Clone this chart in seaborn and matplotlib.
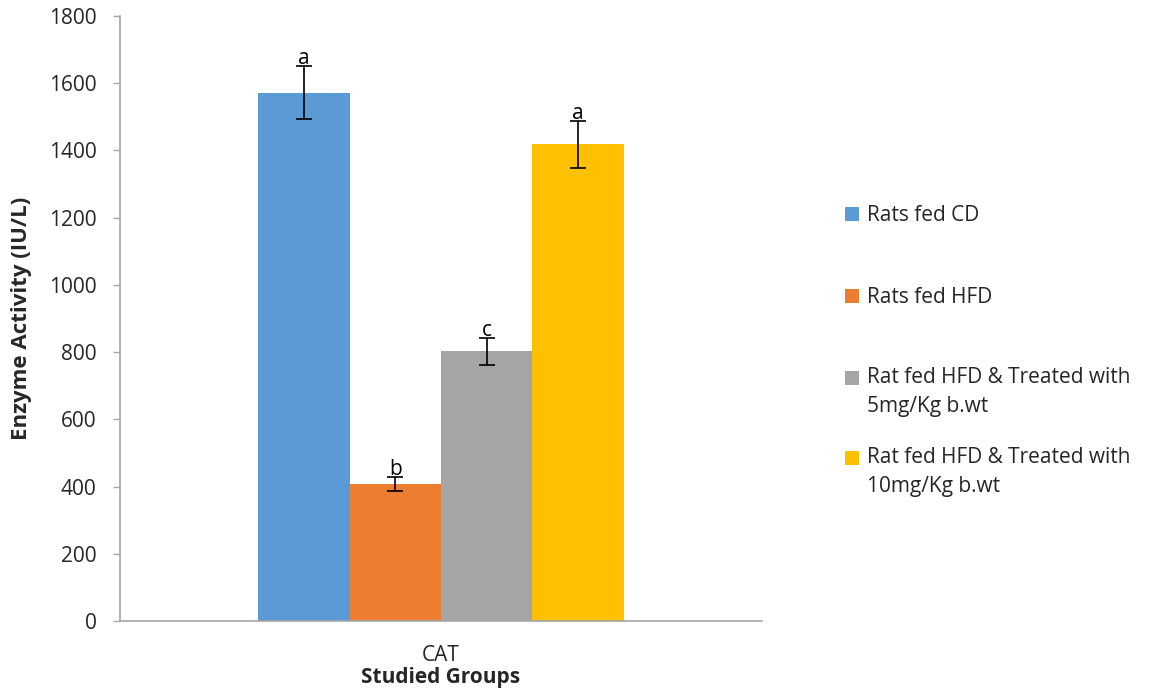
import matplotlib
matplotlib.use("Agg")
import matplotlib.pyplot as plt
from matplotlib.patches import Rectangle
from matplotlib.legend_handler import HandlerPatch
import seaborn as sns
import pandas as pd

# Catalase activity per study group
test_name = ["CAT"]
groups = [
    "Rats fed CD",
    "Rats fed HFD",
    "Rat fed HFD & Treated with\n5mg/Kg b.wt",
    "Rat fed HFD & Treated with\n10mg/Kg b.wt",
]
means = [1572, 408, 802, 1418]
errors = [79, 21, 40, 71]
letters = ["a", "b", "c", "a"]
colors = ["#5B9BD5", "#ED7D31", "#A5A5A5", "#FFC000"]
yticks = [0, 200, 400, 600, 800, 1000, 1200, 1400, 1600, 1800]

FS = 15
W, H = 1172, 697

sns.set_style("white")
plt.rcParams["font.family"] = ["Open Sans", "DejaVu Sans"]

df = pd.DataFrame({"Test": test_name * len(groups), "Group": groups, "Activity": means})

fig = plt.figure(figsize=(W / 100, H / 100), dpi=100)
ax = fig.add_axes([120 / W, 1 - 621 / H, 642 / W, 605 / H])

sns.barplot(data=df, x="Test", y="Activity", hue="Group", hue_order=groups,
            palette=colors, width=0.57, errorbar=None, ax=ax, saturation=1,
            linewidth=0, legend=True)

# error bars and significance letters at each bar centre
bars = [p for p in ax.patches if p.get_height() > 0][:len(groups)]
bars.sort(key=lambda p: p.get_x())
for bar, m, e, lab in zip(bars, means, errors, letters):
    cx = bar.get_x() + bar.get_width() / 2
    ax.errorbar(cx, m, yerr=e, fmt="none", ecolor="black", elinewidth=1.2,
                capsize=6, capthick=1.2)
    ax.text(cx, m + e - 10, lab, ha="center", va="bottom", fontsize=FS, color="black")

ax.set_ylim(0, 1800)
ax.set_yticks(yticks)
ax.set_xlim(-0.5, 0.5)
ax.tick_params(axis="y", labelsize=FS, length=5, width=1, color="#A6A6A6",
               direction="out", left=True, pad=12)
ax.tick_params(axis="x", labelsize=FS, length=0, pad=17)
for s in ["top", "right"]:
    ax.spines[s].set_visible(False)
for s in ["left", "bottom"]:
    ax.spines[s].set_color("#A6A6A6")
    ax.spines[s].set_linewidth(1.2)

ax.set_xlabel("Studied Groups", fontsize=FS, fontweight="bold", labelpad=1)
ax.set_ylabel("Enzyme Activity (IU/L)", fontsize=FS + 1, fontweight="bold")
ax.yaxis.set_label_coords(-0.137, 0.5)

# legend: one block per group, swatch aligned with the first text line
handles, labels = ax.get_legend_handles_labels()
ax.get_legend().remove()

LINESPACING = 1.5
first_line_y = [216, 298, 378, 458]      # pixel rows of each entry's first line
legend_x = 845 / W


def swatch_on_first_line(nlines):
    shift = 0.5 * (nlines - 1) * LINESPACING * 0.96 * FS

    def make(legend, orig_handle, xdescent, ydescent, width, height, fontsize):
        return Rectangle((-xdescent, -ydescent + shift), width, height)
    return make


for i, (h, lab, y) in enumerate(zip(handles, labels, first_line_y)):
    nlines = lab.count("\n") + 1
    leg = ax.legend([h], [lab], loc="upper left",
                    bbox_to_anchor=(legend_x, 1 - (y - 11) / H),
                    bbox_transform=fig.transFigure, frameon=False, fontsize=FS,
                    handlelength=0.67, handleheight=0.67, handletextpad=0.4,
                    borderpad=0, borderaxespad=0,
                    handler_map={type(h): HandlerPatch(patch_func=swatch_on_first_line(nlines))})
    for t in leg.get_texts():
        t.set_linespacing(LINESPACING)
    if i < len(handles) - 1:
        ax.add_artist(leg)

fig.savefig("out.png", dpi=100)
